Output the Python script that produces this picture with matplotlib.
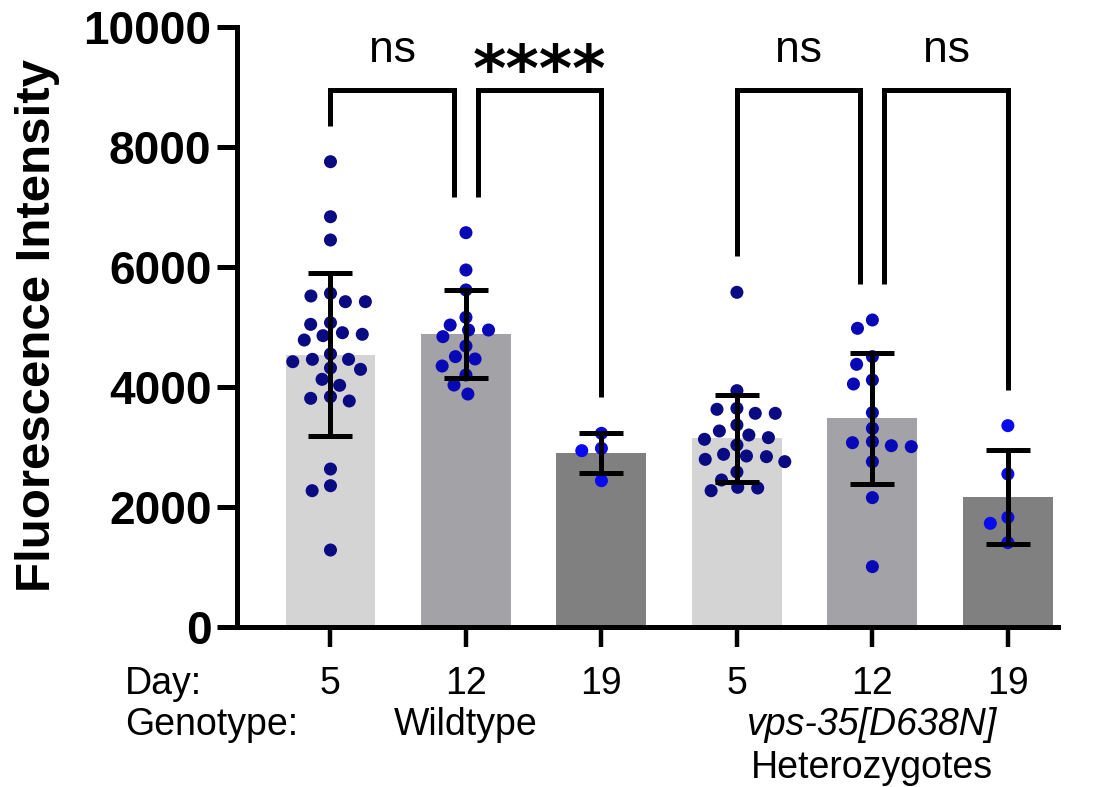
import numpy as np
import matplotlib
matplotlib.use("Agg")
import matplotlib.pyplot as plt

plt.rcParams['font.family'] = ['Liberation Sans', 'DejaVu Sans']

# ---------------- data ----------------
day_labels = ['5', '12', '19', '5', '12', '19']
genotype_wt = 'Wildtype'
genotype_het_1 = 'vps-35[D638N]'
genotype_het_2 = 'Heterozygotes'

wt_d5 = [7755, 6838, 6450, 5561, 5517, 5422, 5422, 5072, 5044, 4905, 4878, 4856,
         4783, 4550, 4461, 4461, 4422, 4317, 4294, 4128, 4028, 3839, 3811, 3767,
         2633, 2355, 2272, 1283]
wt_d12 = [6572, 5950, 5617, 5161, 5033, 4950, 4950, 4839, 4683, 4506, 4467, 4350,
          4200, 4033, 3883]
wt_d19 = [3228, 2978, 2939, 2439]
het_d5 = [5578, 3939, 3644, 3628, 3561, 3561, 3367, 3267, 3200, 3156, 3128, 3033,
          2878, 2850, 2839, 2794, 2756, 2583, 2450, 2328, 2317, 2272]
het_d12 = [5117, 4978, 4506, 4378, 4117, 4050, 3572, 3311, 3089, 3072, 3022, 3006,
           2756, 2156, 1006]
het_d19 = [3356, 2550, 1828, 1728, 1406]

groups = [wt_d5, wt_d12, wt_d19, het_d5, het_d12, het_d19]
comparisons = [(0, 1, 'ns'), (1, 2, '****'), (3, 4, 'ns'), (4, 5, 'ns')]

bar_colors = ['#d4d4d4', '#a2a2a7', '#808080', '#d4d4d4', '#a2a2a7', '#808080']
dot_colors = ['#0a0a82', '#0808b8', '#0a0aee', '#0a0a82', '#0808b8', '#0a0aee']

# ---------------- figure ----------------
W, H = 1102, 787
fig = plt.figure(figsize=(W / 100, H / 100), dpi=100)
ax_left, ax_right, ax_bot, ax_top = 237, 1058, 627, 27
ax = fig.add_axes([ax_left / W, 1 - ax_bot / H, (ax_right - ax_left) / W, (ax_bot - ax_top) / H])
xlim = (-0.69, 5.37)
ylim = (0, 10000)
ax.set_xlim(*xlim)
ax.set_ylim(*ylim)

px_x = (ax_right - ax_left) / (xlim[1] - xlim[0])
px_y = (ax_bot - ax_top) / (ylim[1] - ylim[0])

x = np.arange(len(groups))
means = np.array([np.mean(g) for g in groups])
sds = np.array([np.std(g, ddof=1) for g in groups])

ax.bar(x, means, width=0.664, color=bar_colors, zorder=1, linewidth=0)


def swarm_offsets(vals, wx=20.0, wy=12.5):
    """Greedy elliptical beeswarm in pixel space; returns x offsets in data units."""
    ypx = np.asarray(vals, float) * px_y
    order = np.argsort(-ypx, kind='stable')
    placed = []
    offs = np.zeros(len(vals))
    for i in order:
        cands = [0.0]
        for (xj, yj) in placed:
            dy = ypx[i] - yj
            if abs(dy) < wy:
                dx = wx * np.sqrt(1 - (dy / wy) ** 2)
                cands += [xj + dx, xj - dx]
        cands = sorted(cands, key=lambda c: (abs(c), c))
        for c in cands:
            ok = True
            for (xj, yj) in placed:
                if ((c - xj) / wx) ** 2 + ((ypx[i] - yj) / wy) ** 2 < 0.999:
                    ok = False
                    break
            if ok:
                break
        placed.append((c, ypx[i]))
        offs[i] = c
    return offs / px_x


for xi, g, col in zip(x, groups, dot_colors):
    off = swarm_offsets(g)
    ax.scatter(xi + off, g, s=88, color=col, edgecolors='none', zorder=2)

ax.errorbar(x, means, yerr=sds, fmt='none', ecolor='black', elinewidth=3.6,
            capsize=16, capthick=3.6, zorder=3)

# ---------------- significance brackets ----------------
bracket_top = 8950
leg_gap = 600
shrink = 12 / px_x
lefts = [c[0] for c in comparisons]
rights = [c[1] for c in comparisons]
for i, j, lab in comparisons:
    xl = i + (shrink if i in rights else 0)
    xr = j - (shrink if j in lefts else 0)
    yl = max(groups[i]) + leg_gap
    yr = max(groups[j]) + leg_gap
    ax.plot([xl, xl, xr, xr], [yl, bracket_top, bracket_top, yr], color='black',
            lw=3.6, solid_joinstyle='miter', solid_capstyle='butt', zorder=4)
    xm = (xl + xr) / 2
    if lab == 'ns':
        ax.text(xm, 9417, lab, ha='center', va='baseline', fontsize=32, zorder=5)
    else:
        ax.text(xm, 8930, lab, ha='center', va='baseline', fontsize=46,
                fontweight='bold', family='DejaVu Sans', zorder=5)

# ---------------- axes styling ----------------
for s in ['top', 'right']:
    ax.spines[s].set_visible(False)
for s in ['left', 'bottom']:
    ax.spines[s].set_linewidth(3.6)

ax.set_yticks([0, 2000, 4000, 6000, 8000, 10000])
ax.tick_params(axis='y', length=14.4, width=3.6, labelsize=33, pad=4)
for lab in ax.get_yticklabels():
    lab.set_fontweight('bold')
ax.set_xticks(x)
ax.tick_params(axis='x', length=14.4, width=3.2, labelbottom=False)

fig.text(38 / W, 1 - 325 / H, 'Fluorescence Intensity', rotation=90, ha='center',
         va='center', fontsize=35.5, fontweight='bold')

# ---------------- category labels ----------------
trans = ax.get_xaxis_transform()
row1 = (ax_bot - 694) / (ax_bot - ax_top)
row2 = (ax_bot - 735) / (ax_bot - ax_top)
row3 = (ax_bot - 778) / (ax_bot - ax_top)
lab_fs = 27
fig.text(125 / W, 1 - 694 / H, 'Day:', ha='left', va='baseline', fontsize=lab_fs)
fig.text(125 / W, 1 - 735 / H, 'Genotype:', ha='left', va='baseline', fontsize=lab_fs)
for xi, d in zip(x, day_labels):
    ax.text(xi, row1, d, transform=trans, ha='center', va='baseline', fontsize=lab_fs)
ax.text(1, row2, genotype_wt, transform=trans, ha='center', va='baseline', fontsize=lab_fs)
ax.text(4, row2, genotype_het_1, transform=trans, ha='center', va='baseline',
        fontsize=lab_fs, style='italic')
ax.text(4, row3, genotype_het_2, transform=trans, ha='center', va='baseline', fontsize=lab_fs)

fig.savefig('out.png', dpi=100)
